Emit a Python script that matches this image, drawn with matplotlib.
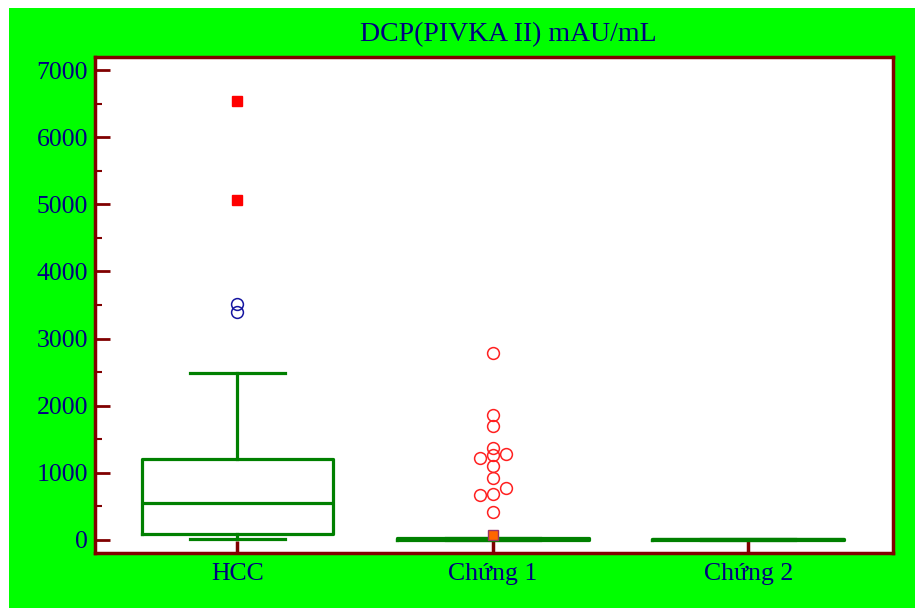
import matplotlib.pyplot as plt
from matplotlib.patches import Rectangle

# === DATA ===
groups = ["HCC", "Chứng 1", "Chứng 2"]
title = "DCP(PIVKA II) mAU/mL"

# box statistics (whislo, q1, med, q3, whishi)
whislo = [15, 0, 0]
q1 = [90, 5, 2]
med = [550, 15, 8]
q3 = [1200, 30, 15]
whishi = [2480, 30, 20]

# outside values (circles) and far-out values (squares)
hcc_out = [3400, 3515]
hcc_far = [5060, 6540]
c1_out = [2790, 1862, 1700, 1376, 1262, 1107, 919, 681, 422, 1222, 675, 1282, 770]
c1_jitter = [0, 0, 0, 0, 0, 0, 0, 0, 0, -0.05, -0.05, 0.05, 0.05]
c1_mark = [80]

# === STYLE ===
bg_green = "#00FF00"
box_green = "#008000"
maroon = "#800000"
navy = "#000080"
serif = ["Liberation Serif", "DejaVu Serif"]

fig = plt.figure(figsize=(9.15, 6.08), dpi=100)
fig.patches.append(Rectangle((9 / 915, 0), 1, 600 / 608, transform=fig.transFigure,
                             facecolor=bg_green, edgecolor="none", zorder=-10))

ax = fig.add_axes([95 / 915, 1 - 553 / 608, 798 / 915, 496 / 608])
ax.set_facecolor("white")

stats = []
for i in range(len(groups)):
    stats.append(dict(whislo=whislo[i], q1=q1[i], med=med[i], q3=q3[i], whishi=whishi[i], fliers=[]))

line = dict(color=box_green, linewidth=2.3)
ax.bxp(stats, positions=[1, 2, 3], widths=0.75, showfliers=False,
       boxprops=line, medianprops=line, whiskerprops=line,
       capprops=line, capwidths=0.37, manage_ticks=False)

# outliers
ax.plot([1] * len(hcc_out), hcc_out, "o", mfc="none", mec="#1515A0", ms=8.5, mew=1.1, zorder=5)
ax.plot([1] * len(hcc_far), hcc_far, "s", color="#FF0000", ms=7.5, zorder=5)
ax.plot([2 + j for j in c1_jitter], c1_out, "o", mfc="none", mec="#FF2020", ms=8.5, mew=1.1, zorder=5)
ax.plot([2] * len(c1_mark), c1_mark, "s", mfc="#FF6600", mec="#993366", ms=7.5, mew=1, zorder=6)

ax.set_xlim(0.442, 3.567)
ax.set_ylim(-195, 7195)
ax.set_xticks([1, 2, 3])
ax.set_xticklabels(groups)
ax.set_yticks(range(0, 7001, 1000))
ax.set_yticks(range(500, 7000, 1000), minor=True)

for s in ax.spines.values():
    s.set_color(maroon)
    s.set_linewidth(2.5)

ax.tick_params(axis="y", which="major", direction="in", length=11, width=2, color=maroon,
               labelcolor=navy, labelsize=18.5, pad=5)
ax.tick_params(axis="y", which="minor", direction="in", length=5, width=1.5, color=maroon)
ax.tick_params(axis="x", direction="in", length=8.5, width=2.5, color=maroon,
               labelcolor=navy, labelsize=18.5, pad=7)
for lab in ax.get_xticklabels() + ax.get_yticklabels():
    lab.set_family(serif)

fig.text(508.5 / 915, 1 - 35 / 608, title, ha="center", va="center",
         color=navy, fontsize=20, family=serif)

fig.savefig("out.png", dpi=100, facecolor="white")
